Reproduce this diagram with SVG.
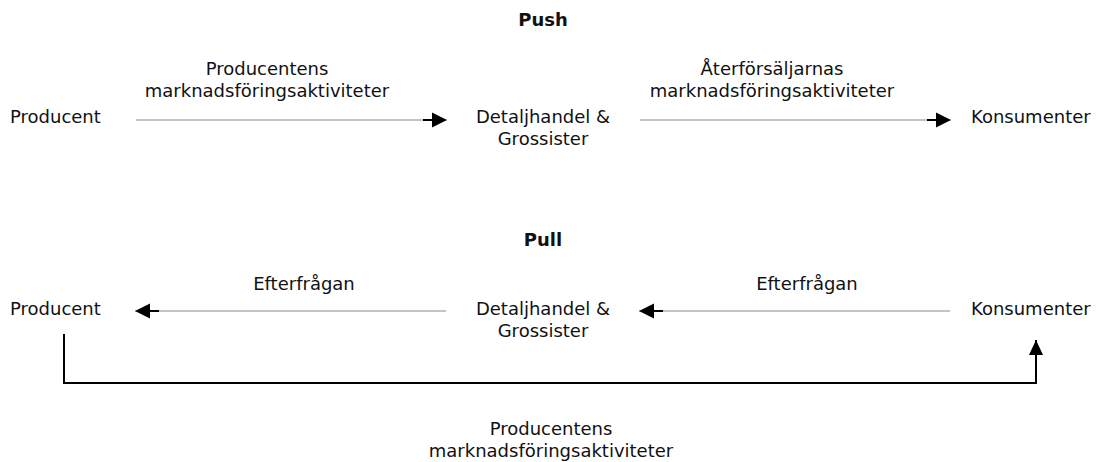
<svg xmlns="http://www.w3.org/2000/svg" width="1098" height="462" viewBox="0 0 1098 462">
  <style>
    text { font-family: "DejaVu Sans", Verdana, sans-serif; font-size: 18px; fill: #111; }
    .title { font-weight: bold; }
    .mid { text-anchor: middle; }
    .thin { stroke: #888; stroke-width: 1; fill: none; }
    .thick { stroke: #000; stroke-width: 2; fill: none; }
  </style>
  <defs>
    <!-- arrowhead with a short heavy stub in front of the triangle -->
    <marker id="head" viewBox="0 0 24 16" refX="24" refY="8" markerWidth="24" markerHeight="16" markerUnits="userSpaceOnUse" orient="auto">
      <rect x="0" y="7" width="10" height="2" fill="#000"/>
      <path d="M9,0.5 L24,8 L9,15.5 Z" fill="#000"/>
    </marker>
    <marker id="headUp" viewBox="0 0 15 15" refX="15" refY="7.5" markerWidth="15" markerHeight="15" markerUnits="userSpaceOnUse" orient="auto">
      <path d="M0,0.5 L15,7.5 L0,14.5 Z" fill="#000"/>
    </marker>
  </defs>

  <text class="title mid" x="543" y="26">Push</text>
  <text class="title mid" x="543" y="246">Pull</text>

  <g id="connectors">
    <line class="thin" x1="136" y1="120" x2="447" y2="120" marker-end="url(#head)"/>
    <line class="thin" x1="640" y1="120" x2="951" y2="120" marker-end="url(#head)"/>
    <line class="thin" x1="446" y1="311" x2="135" y2="311" marker-end="url(#head)"/>
    <line class="thin" x1="950" y1="311" x2="639" y2="311" marker-end="url(#head)"/>
    <polyline class="thick" points="64,334 64,383 1036,383 1036,340" marker-end="url(#headUp)"/>
  </g>

  <g id="push-producent"><text x="10" y="123">Producent</text></g>
  <g id="push-label-1">
    <text class="mid" x="267" y="75">Producentens</text>
    <text class="mid" x="267" y="97">marknadsföringsaktiviteter</text>
  </g>
  <g id="push-handel">
    <text class="mid" x="543" y="123">Detaljhandel &amp;</text>
    <text class="mid" x="543" y="145">Grossister</text>
  </g>
  <g id="push-label-2">
    <text class="mid" x="772" y="75">Återförsäljarnas</text>
    <text class="mid" x="772" y="97">marknadsföringsaktiviteter</text>
  </g>
  <g id="push-konsumenter"><text x="971" y="123">Konsumenter</text></g>

  <g id="pull-producent"><text x="10" y="315">Producent</text></g>
  <g id="pull-label-1"><text class="mid" x="304" y="290">Efterfrågan</text></g>
  <g id="pull-handel">
    <text class="mid" x="543" y="315">Detaljhandel &amp;</text>
    <text class="mid" x="543" y="337">Grossister</text>
  </g>
  <g id="pull-label-2"><text class="mid" x="807" y="290">Efterfrågan</text></g>
  <g id="pull-konsumenter"><text x="971" y="315">Konsumenter</text></g>

  <g id="pull-label-3">
    <text class="mid" x="551" y="435">Producentens</text>
    <text class="mid" x="551" y="457">marknadsföringsaktiviteter</text>
  </g>
</svg>
